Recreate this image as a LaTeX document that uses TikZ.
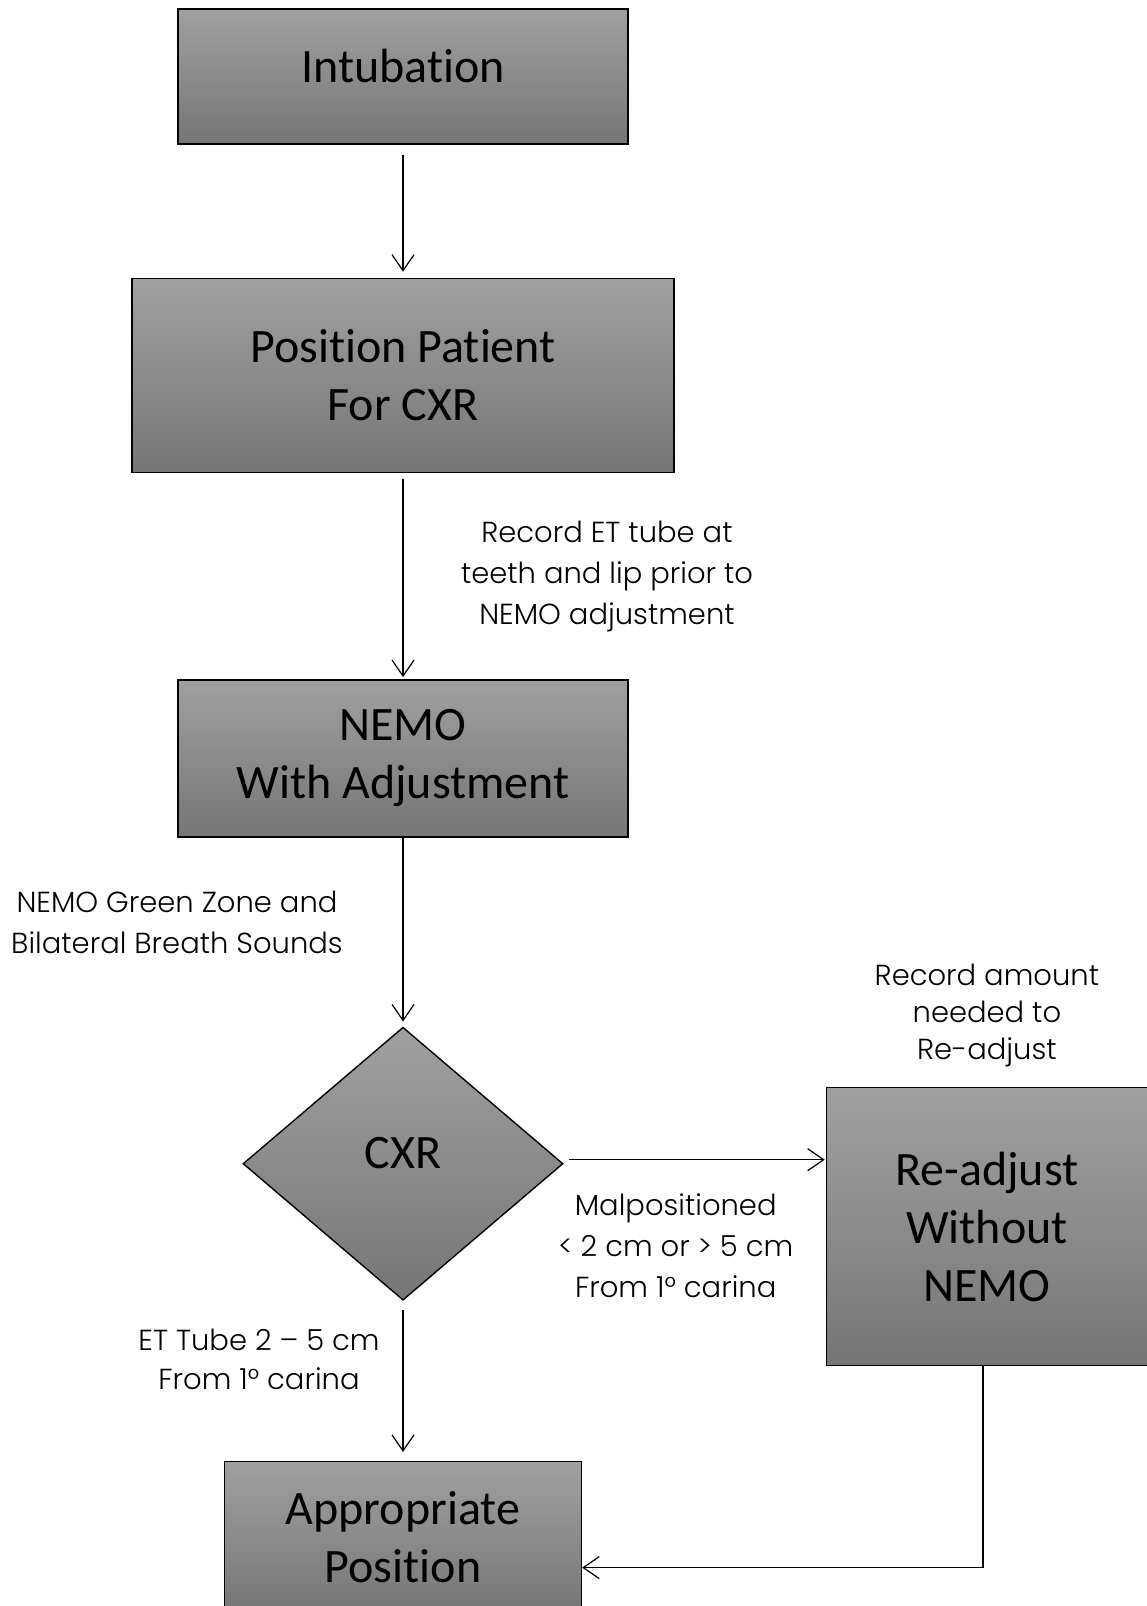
\documentclass[tikz,border=0pt]{standalone}
\usepackage{fontspec}
\setmainfont{Carlito}[Ligatures=NoCommon]
\newfontfamily\lblfont{Poppins Light}
\usetikzlibrary{arrows.meta,positioning,shapes.geometric}
\definecolor{boxtop}{RGB}{160,160,160}
\definecolor{boxbot}{RGB}{118,118,118}

\begin{document}
\begin{tikzpicture}[x=1pt,y=1pt,-{Straight Barb[length=16pt,width=22pt]},line width=1.2pt]
  \tikzstyle{stepbox}=[rectangle,draw=black,line width=1.4pt,top color=boxtop,bottom color=boxbot,
    font=\fontsize{48}{58}\selectfont,align=center,inner sep=0pt]
  \tikzstyle{decide}=[diamond,draw=black,line width=1.4pt,top color=boxtop,bottom color=boxbot,
    font=\fontsize{48}{58}\selectfont,inner sep=0pt,minimum width=320pt,minimum height=273pt]
  \tikzstyle{note}=[font=\lblfont\fontsize{29}{41}\selectfont,align=center]

  \useasboundingbox (0,0) rectangle (1147,-1606);

  \node[stepbox,minimum width=450pt,minimum height=135pt] (intub) at (403,-76.5) {\raisebox{21pt}{Intubation}};
  \node[stepbox,minimum width=542pt,minimum height=194pt] (pos)   [below=133pt of intub] {Position Patient\\For CXR};
  \node[stepbox,minimum width=450pt,minimum height=157pt] (nemo)  [below=206pt of pos] {NEMO\\With Adjustment};
  \node[decide]                                           (cxr)   [below=189pt of nemo] {\raisebox{22pt}{CXR}};
  \node[stepbox,minimum width=321pt,minimum height=278pt] (readj) [right=262pt of cxr,yshift=-63pt] {Re-adjust\\Without\\NEMO};
  \node[stepbox,minimum width=357pt,minimum height=152pt] (app)   [below=160pt of cxr] {Appropriate\\Position};
  \node[note,font=\lblfont\fontsize{29}{37}\selectfont] (recamt) [above=16pt of readj] {Record amount\\needed to\\Re-adjust};

  \path
  (intub) edge[shorten <=10pt,shorten >=6pt] (pos)
  (pos)   edge[shorten <=6pt,shorten >=2pt] node[note,xshift=204pt] {Record ET tube at\\teeth and lip prior to\\NEMO adjustment} (nemo)
  (nemo)  edge[shorten >=5pt] node[note,xshift=-226pt,yshift=10pt] {NEMO Green Zone and\\Bilateral Breath Sounds} (cxr)
  ([yshift=4pt]cxr.east) edge[shorten <=5pt,shorten >=1pt] node[note,xshift=-19pt,yshift=-86pt] {Malpositioned\\< 2 cm or > 5 cm\\From 1° carina} ([yshift=4pt]readj.west |- cxr.east)
  (cxr)   edge[shorten <=9pt,shorten >=9pt] node[note,xshift=-144pt,yshift=22pt,font=\lblfont\fontsize{29}{39}\selectfont] {ET Tube 2 – 5 cm\\From 1° carina} (app);
  \draw ([xshift=-4pt]readj.south) |- ([yshift=-30pt]app.east);
\end{tikzpicture}
\end{document}
